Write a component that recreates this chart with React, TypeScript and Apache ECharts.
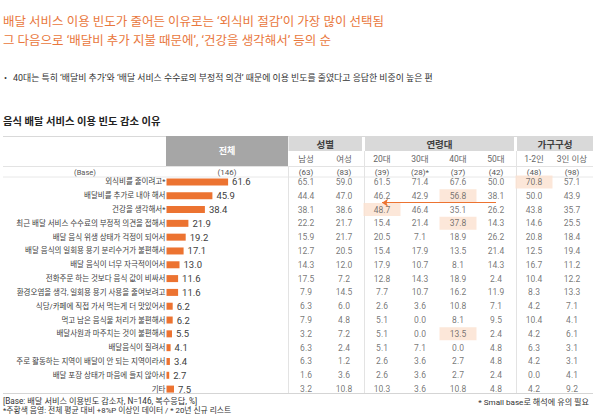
import React, { useEffect, useRef } from "react";
import * as echarts from "echarts";

const reasons = [
  "외식비를 줄이려고*",
  "배달비를 추가로 내야 해서",
  "건강을 생각해서*",
  "최근 배달 서비스 수수료의 부정적 의견을 접해서",
  "배달 음식 위생 상태가 걱정이 되어서",
  "배달 음식의 일회용 용기 분리수거가 불편해서",
  "배달 음식이 너무 자극적이어서",
  "전화주문 하는 것보다 음식 값이 비싸서",
  "환경오염을 생각, 일회용 용기 사용을 줄여보려고",
  "식당/카페에 직접 가서 먹는게 더 맛있어서",
  "먹고 남은 음식물 처리가 불편해서",
  "배달사원과 마주치는 것이 불편해서",
  "배달음식이 질려서",
  "주로 활동하는 지역이 배달이 안 되는 지역이라서",
  "배달 포장 상태가 마음에 들지 않아서",
  "기타",
];
const totalValues = [61.6, 45.9, 38.4, 21.9, 19.2, 17.1, 13.0, 11.6, 11.6, 6.2, 6.2, 5.5, 4.1, 3.4, 2.7, 7.5];
const totalBase = "(146)";

const columns = ["남성", "여성", "20대", "30대", "40대", "50대", "1-2인", "3인 이상"];
const columnBase = ["(63)", "(83)", "(39)", "(28)*", "(37)", "(42)", "(48)", "(98)"];
const groups = ["성별", "연령대", "가구구성"];
const groupSizes = [2, 4, 2];

const male = [65.1, 44.4, 38.1, 22.2, 15.9, 12.7, 14.3, 17.5, 7.9, 6.3, 7.9, 3.2, 6.3, 6.3, 1.6, 3.2];
const female = [59.0, 47.0, 38.6, 21.7, 21.7, 20.5, 12.0, 7.2, 14.5, 6.0, 4.8, 7.2, 2.4, 1.2, 3.6, 10.8];
const age20 = [61.5, 46.2, 48.7, 15.4, 20.5, 15.4, 17.9, 12.8, 7.7, 2.6, 5.1, 5.1, 5.1, 2.6, 2.6, 10.3];
const age30 = [71.4, 42.9, 46.4, 21.4, 7.1, 17.9, 10.7, 14.3, 10.7, 3.6, 0.0, 0.0, 7.1, 3.6, 3.6, 3.6];
const age40 = [67.6, 56.8, 35.1, 37.8, 18.9, 13.5, 8.1, 18.9, 16.2, 10.8, 8.1, 13.5, 0.0, 2.7, 2.7, 10.8];
const age50 = [50.0, 38.1, 26.2, 14.3, 26.2, 21.4, 14.3, 2.4, 11.9, 7.1, 9.5, 2.4, 4.8, 4.8, 2.4, 4.8];
const house12 = [70.8, 50.0, 43.8, 14.6, 20.8, 12.5, 16.7, 10.4, 8.3, 4.2, 10.4, 4.2, 6.3, 4.2, 0.0, 4.2];
const house3 = [57.1, 43.9, 35.7, 25.5, 18.4, 19.4, 11.2, 12.2, 13.3, 7.1, 4.1, 6.1, 3.1, 3.1, 4.1, 9.2];
const columnValues = [male, female, age20, age30, age40, age50, house12, house3];

// highlighted cells: [row, column]
const highlights = [
  [0, 6],
  [1, 4],
  [2, 2],
  [3, 4],
  [11, 4],
];
// arrow: from column 50대 to 20대, between row 1 and 2
const arrowFrom = [5.15, 1.5];
const arrowTo = [2, 1.5];

const title1 = "배달 서비스 이용 빈도가 줄어든 이유로는 ‘외식비 절감’이 가장 많이 선택됨";
const title2 = "그 다음으로 ‘배달비 추가 지불 때문에’, ‘건강을 생각해서’ 등의 순";
const bullet = "40대는 특히 ‘배달비 추가’와 ‘배달 서비스 수수료의 부정적 의견’ 때문에 이용 빈도를 줄였다고 응답한 비중이 높은 편";
const sectionTitle = "음식 배달 서비스 이용 빈도 감소 이유";
const note1 = "[Base: 배달 서비스 이용빈도 감소자, N=146, 복수응답, %]";
const note2 = "*주황색 음영: 전체 평균 대비 +8%P 이상인 데이터 / * 20년 신규 리스트";
const note3 = "* Small base로 해석에 유의 필요";

const FONT = "Roboto, 'Noto Sans CJK KR', sans-serif";
const ORANGE = "#EC7331";
const TL = 287;
const CW = 38;
const GTOP = 175;
const GH = 221;

export default function App() {
  const ref = useRef<HTMLDivElement>(null);
  useEffect(() => {
    document.body.style.margin = "0";
    if (!ref.current) return;
    const chart = echarts.init(ref.current, undefined, { renderer: "svg" });

    const hl = new Set(highlights.map(([r, c]) => r + "_" + c));
    const cells: any[] = [];
    columnValues.forEach((vals, c) => {
      vals.forEach((v, r) => {
        cells.push({
          value: [c, r, v],
          itemStyle: { color: hl.has(r + "_" + c) ? "#FBE1CF" : "rgba(0,0,0,0)" },
        });
      });
    });

    const graphics: any[] = [];
    const hline = (y: number, x1: number, x2: number, color: string) =>
      graphics.push({ type: "line", shape: { x1, y1: y, x2, y2: y }, style: { stroke: color, lineWidth: 1 }, silent: true });
    const vline = (x: number, y1: number, y2: number) =>
      graphics.push({ type: "line", shape: { x1: x, y1, x2: x, y2 }, style: { stroke: "#E3E3E3", lineWidth: 1 }, silent: true });
    hline(136.5, 3, 593, "#D9D9D9");
    hline(166.5, 3, 593, "#E3E3E3");
    hline(177, 3, 593, "#E8E8E8");
    hline(393.5, 3, 593, "#D5D5D5");
    vline(288.5, 166, 393);
    vline(TL + 2 * CW + 1.5, 151, 393);
    vline(TL + 6 * CW + 1.5, 151, 393);
    graphics.push({ type: "rect", shape: { x: 166, y: 136, width: 122, height: 30 }, style: { fill: "#A6A6A6" } });
    graphics.push({
      type: "text",
      style: { text: "전체", x: 227, y: 151, fill: "#fff", fontSize: 9, fontWeight: "bold", fontFamily: FONT, align: "center", verticalAlign: "middle" },
    });
    let start = 0;
    groups.forEach((g, i) => {
      const n = groupSizes[i];
      const x0 = TL + start * CW + (i === 0 ? 1.5 : 2);
      const x1 = i === groups.length - 1 ? 593 : TL + (start + n) * CW - 1;
      graphics.push({ type: "rect", shape: { x: x0, y: 136, width: x1 - x0, height: 15 }, style: { fill: "#D9D9D9" } });
      graphics.push({
        type: "text",
        style: { text: g, x: (x0 + x1) / 2, y: 144, fill: "#404040", fontSize: 9.5, fontWeight: "bold", fontFamily: FONT, align: "center", verticalAlign: "middle" },
      });
      start += n;
    });
    graphics.push({
      type: "text",
      style: { text: "(Base)", x: 85, y: 172, fill: "#555", fontSize: 7.5, fontFamily: FONT, align: "center", verticalAlign: "middle" },
    });
    graphics.push({
      type: "text",
      style: { text: totalBase, x: 227, y: 172, fill: "#555", fontSize: 8, fontFamily: FONT, align: "center", verticalAlign: "middle" },
    });
    graphics.push({ type: "text", style: { text: note1, x: 3, y: 401, fill: "#333", fontSize: 8.2, fontFamily: FONT, verticalAlign: "middle" } });
    graphics.push({ type: "text", style: { text: note2, x: 3, y: 410, fill: "#333", fontSize: 7.8, fontFamily: FONT, verticalAlign: "middle" } });
    graphics.push({ type: "text", style: { text: note3, x: 589, y: 402, fill: "#333", fontSize: 8.1, fontFamily: FONT, align: "right", verticalAlign: "middle" } });
    graphics.push({ type: "text", style: { text: title1, x: 3, y: 21, fill: "#E9773C", fontSize: 12.5, fontFamily: FONT, verticalAlign: "middle" } });
    graphics.push({ type: "text", style: { text: title2, x: 3, y: 40, fill: "#E9773C", fontSize: 12.5, fontFamily: FONT, verticalAlign: "middle" } });
    graphics.push({ type: "text", style: { text: "•", x: 4, y: 78, fill: "#333", fontSize: 9, fontFamily: FONT, verticalAlign: "middle" } });
    graphics.push({ type: "text", style: { text: bullet, x: 13, y: 78, fill: "#333", fontSize: 8.9, fontFamily: FONT, verticalAlign: "middle" } });
    graphics.push({ type: "text", style: { text: sectionTitle, x: 3, y: 121, fill: "#222", fontSize: 10.3, fontWeight: "bold", fontFamily: FONT, verticalAlign: "middle" } });

    chart.setOption({
      animation: false,
      textStyle: { fontFamily: FONT },
      graphic: { elements: graphics },
      grid: [
        { left: 166.5, top: GTOP, width: 122, height: GH, containLabel: false },
        { left: TL, top: GTOP, width: CW * 8, height: GH, containLabel: false },
      ],
      xAxis: [
        { type: "value", gridIndex: 0, min: 0, max: 122, show: false },
        {
          type: "category",
          gridIndex: 1,
          data: columns,
          position: "top",
          axisLine: { show: false },
          axisTick: { show: false },
          axisLabel: {
            interval: 0,
            margin: -3,
            formatter: (v: string, i: number) => `{h|${v}}\n{b|${columnBase[i]}}`,
            rich: {
              h: { fontSize: 8.5, color: "#666", lineHeight: 14, fontFamily: FONT },
              b: { fontSize: 8, color: "#555", lineHeight: 12, fontFamily: FONT },
            },
          },
        },
      ],
      yAxis: [
        {
          type: "category",
          gridIndex: 0,
          data: reasons,
          inverse: true,
          axisLine: { show: false },
          axisTick: { show: false },
          axisLabel: { interval: 0, margin: 1, fontSize: 7.5, color: "#404040", fontFamily: FONT },
        },
        { type: "category", gridIndex: 1, data: reasons, inverse: true, show: false },
        { type: "value", gridIndex: 1, min: -0.5, max: 15.5, inverse: true, show: false },
      ],
      series: [
        {
          type: "bar",
          xAxisIndex: 0,
          yAxisIndex: 0,
          data: totalValues,
          barWidth: 7,
          itemStyle: { color: ORANGE },
          label: {
            show: true,
            position: "right",
            distance: 4,
            fontSize: 9.5,
            color: "#404040",
            fontFamily: FONT,
            formatter: (p: any) => Number(p.value).toFixed(1),
          },
        },
        {
          type: "scatter",
          xAxisIndex: 1,
          yAxisIndex: 1,
          symbol: "rect",
          symbolSize: [37, 13],
          data: cells,
          z: 1,
          label: {
            show: true,
            position: "inside",
            fontSize: 8.5,
            color: "#555",
            fontFamily: FONT,
            formatter: (p: any) => Number(p.value[2]).toFixed(1),
          },
        },
        {
          type: "line",
          xAxisIndex: 1,
          yAxisIndex: 2,
          data: [arrowFrom, arrowTo],
          showSymbol: false,
          symbol: "none",
          lineStyle: { opacity: 0 },
          z: 5,
          markLine: {
            silent: true,
            symbol: ["none", "arrow"],
            symbolSize: 6,
            label: { show: false },
            lineStyle: { color: ORANGE, width: 1, type: "solid" },
            data: [[{ coord: arrowFrom }, { coord: arrowTo }]],
          },
        },
      ],
    });
    return () => chart.dispose();
  }, []);
  return <div ref={ref} style={{ width: 600, height: 419 }} />;
}
